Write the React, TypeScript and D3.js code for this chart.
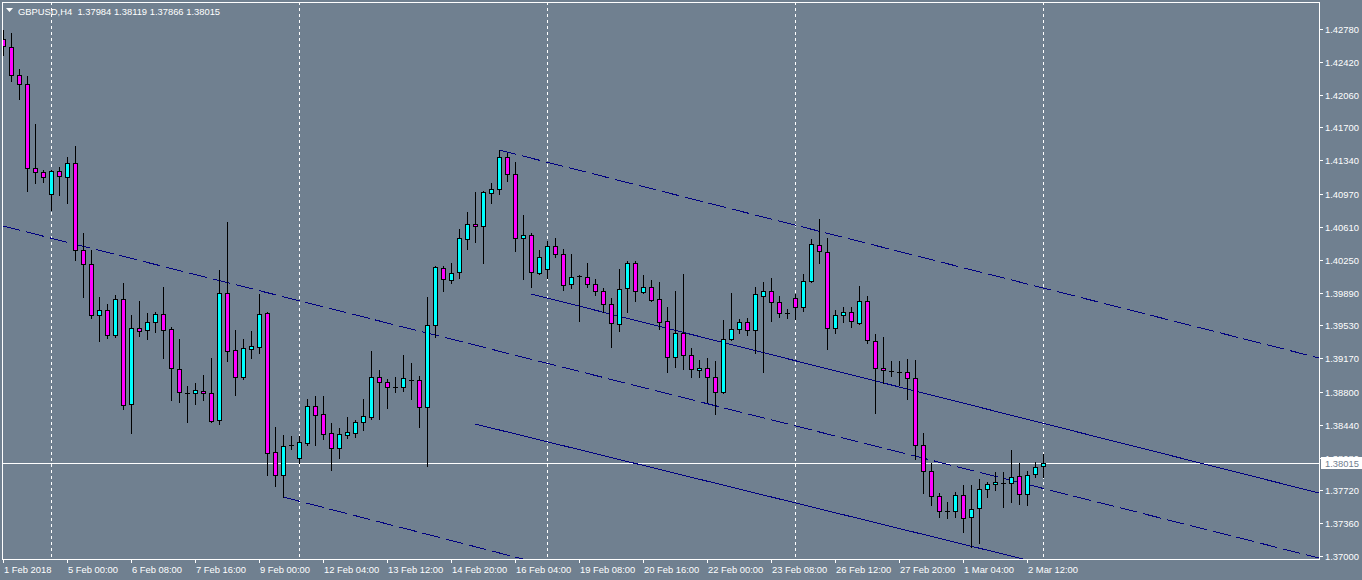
import { useEffect, useRef } from 'react';
import * as d3 from 'd3';

const WIDTH = 1362;
const HEIGHT = 580;
// plot frame (white border), price axis to its right, time axis below
const PLOT = { left: 2, top: 2, right: 1319, bottom: 559 };

const BG = '#708090';
const BULL = '#00ffff';
const BEAR = '#ff00ff';
const CHANNEL = '#000080';
const TEXT = '#ffffff';
const FONT = '"Liberation Sans", Arial, sans-serif';

const symbol = 'GBPUSD,H4';
const lastQuote = [1.37984, 1.38119, 1.37866, 1.38015];
const bid = 1.38015;

// H4 candles, oldest first (131 bars, 1 Feb 2018 .. 2 Mar 2018)
const opens = [
  1.4267, 1.42583, 1.42276, 1.42177, 1.41256, 1.41212, 1.4097, 1.41223, 1.41157, 1.4131,
  1.40356, 1.40203, 1.39643, 1.39698, 1.39424, 1.39819, 1.38667, 1.39501, 1.39479, 1.39567,
  1.39654, 1.3949, 1.39051, 1.3879, 1.38788, 1.3881, 1.38788, 1.38492, 1.39885, 1.3926,
  1.38964, 1.39271, 1.39293, 1.39665, 1.38141, 1.37889, 1.3822, 1.38075, 1.3824, 1.38645,
  1.38558, 1.38349, 1.38185, 1.38327, 1.38349, 1.3847, 1.38525, 1.38964, 1.38909, 1.38856,
  1.38854, 1.38929, 1.38931, 1.38635, 1.39534, 1.40159, 1.40027, 1.40115, 1.40477, 1.40641,
  1.4062, 1.40981, 1.41025, 1.41376, 1.4119, 1.40488, 1.40521, 1.40104, 1.40148, 1.404,
  1.40312, 1.39983, 1.40073, 1.4006, 1.39983, 1.39907, 1.39764, 1.39545, 1.3994, 1.40214,
  1.39896, 1.39951, 1.39819, 1.39578, 1.39183, 1.39446, 1.39205, 1.3904, 1.39062, 1.38964,
  1.38799, 1.3938, 1.3949, 1.39567, 1.39479, 1.39852, 1.39907, 1.39786, 1.39667, 1.3983,
  1.39731, 1.40016, 1.40411, 1.40334, 1.39501, 1.39643, 1.39676, 1.39556, 1.39797, 1.39358,
  1.39062, 1.39031, 1.3902, 1.39018, 1.38953, 1.38218, 1.37933, 1.37658, 1.37496, 1.37494,
  1.37669, 1.37428, 1.37527, 1.37735, 1.3779, 1.37799, 1.37801, 1.37878, 1.3768, 1.379,
  1.37984,
];
const highs = [
  1.42769, 1.42736, 1.42341, 1.42265, 1.41738, 1.41234, 1.41234, 1.41267, 1.41376, 1.41497,
  1.40543, 1.40356, 1.39841, 1.39764, 1.39863, 1.39994, 1.39643, 1.39797, 1.39665, 1.39676,
  1.39951, 1.39512, 1.3938, 1.38865, 1.38898, 1.38985, 1.39172, 1.40137, 1.40663, 1.39479,
  1.3938, 1.39468, 1.39874, 1.39676, 1.38415, 1.38327, 1.38316, 1.38316, 1.38722, 1.38755,
  1.38755, 1.38459, 1.38404, 1.38525, 1.38492, 1.38722, 1.39249, 1.3904, 1.38942, 1.38964,
  1.39205, 1.39117, 1.38975, 1.39841, 1.40181, 1.40181, 1.40214, 1.40587, 1.40773, 1.40992,
  1.41003, 1.41091, 1.41453, 1.4142, 1.41321, 1.4074, 1.40543, 1.40356, 1.40455, 1.40488,
  1.40367, 1.40312, 1.40082, 1.40214, 1.40038, 1.3994, 1.3983, 1.40148, 1.40236, 1.40236,
  1.40082, 1.40027, 1.40005, 1.39731, 1.39907, 1.40093, 1.39282, 1.3915, 1.39172, 1.39139,
  1.39589, 1.39885, 1.396, 1.39611, 1.39951, 1.40005, 1.40049, 1.39852, 1.39709, 1.39874,
  1.40093, 1.40477, 1.40696, 1.40488, 1.39698, 1.39731, 1.39731, 1.39962, 1.39852, 1.39435,
  1.39402, 1.39139, 1.39139, 1.39161, 1.3915, 1.38349, 1.3802, 1.37691, 1.37593, 1.37702,
  1.37779, 1.37779, 1.37845, 1.37812, 1.37922, 1.37922, 1.38163, 1.3802, 1.37933, 1.38031,
  1.38119,
];
const lows = [
  1.42495, 1.4221, 1.42012, 1.41003, 1.41091, 1.41102, 1.40795, 1.4096, 1.40872, 1.40247,
  1.39841, 1.39611, 1.39358, 1.39391, 1.39402, 1.38612, 1.38349, 1.39413, 1.3938, 1.39457,
  1.39172, 1.38711, 1.38689, 1.3847, 1.38667, 1.38711, 1.3847, 1.38448, 1.39139, 1.38766,
  1.38942, 1.39172, 1.39227, 1.37889, 1.37768, 1.37647, 1.38174, 1.3802, 1.38218, 1.38218,
  1.38284, 1.37944, 1.38075, 1.38295, 1.38306, 1.38382, 1.38503, 1.38503, 1.38624, 1.38799,
  1.3881, 1.38722, 1.38415, 1.37987, 1.39402, 1.39907, 1.39994, 1.40049, 1.40367, 1.40444,
  1.40214, 1.40872, 1.4097, 1.41113, 1.40345, 1.40038, 1.39951, 1.40093, 1.40049, 1.4028,
  1.39918, 1.3994, 1.39578, 1.39951, 1.39863, 1.39676, 1.39293, 1.39468, 1.39676, 1.39797,
  1.39885, 1.39797, 1.3949, 1.39018, 1.39073, 1.39051, 1.38964, 1.38964, 1.38689, 1.38558,
  1.38788, 1.39369, 1.39446, 1.39424, 1.39227, 1.39018, 1.39578, 1.39622, 1.39611, 1.396,
  1.39687, 1.40005, 1.40214, 1.39271, 1.39446, 1.39567, 1.39512, 1.39545, 1.39336, 1.38569,
  1.38898, 1.38975, 1.38876, 1.38722, 1.38064, 1.37691, 1.3756, 1.37428, 1.37417, 1.37428,
  1.37264, 1.37099, 1.37143, 1.37647, 1.37724, 1.37538, 1.37593, 1.37571, 1.3756, 1.37867,
  1.37866,
];
const closes = [
  1.42594, 1.42276, 1.42177, 1.41256, 1.41212, 1.41157, 1.41223, 1.41168, 1.4131, 1.40356,
  1.40203, 1.39643, 1.39698, 1.39424, 1.39819, 1.38656, 1.39501, 1.39468, 1.39567, 1.39654,
  1.39479, 1.39062, 1.38799, 1.38788, 1.38821, 1.38788, 1.38481, 1.39885, 1.39249, 1.38964,
  1.39282, 1.39304, 1.39654, 1.3813, 1.37889, 1.38207, 1.38218, 1.38251, 1.38645, 1.38547,
  1.38338, 1.38185, 1.38338, 1.3836, 1.3847, 1.38536, 1.38964, 1.38909, 1.38854, 1.38854,
  1.38953, 1.38931, 1.38635, 1.39534, 1.4017, 1.40038, 1.40104, 1.40488, 1.40641, 1.4062,
  1.40992, 1.41025, 1.41376, 1.4119, 1.40488, 1.40521, 1.40115, 1.4028, 1.404, 1.40312,
  1.39972, 1.4006, 1.40071, 1.39983, 1.39907, 1.39764, 1.39556, 1.39929, 1.40214, 1.39907,
  1.39951, 1.39808, 1.39567, 1.39183, 1.39446, 1.39205, 1.39051, 1.39062, 1.38964, 1.38799,
  1.3938, 1.3949, 1.39567, 1.39479, 1.39874, 1.39907, 1.39786, 1.39665, 1.39665, 1.39731,
  1.40016, 1.40422, 1.40345, 1.39501, 1.39643, 1.39676, 1.39578, 1.39797, 1.39369, 1.39062,
  1.3904, 1.39029, 1.39018, 1.38953, 1.38218, 1.37933, 1.37658, 1.37494, 1.37494, 1.37669,
  1.37417, 1.37516, 1.37735, 1.3779, 1.37812, 1.37801, 1.37867, 1.3768, 1.37889, 1.37977,
  1.38015,
];

// time axis labels, one every 8 bars starting at bar 0
const dateLabels = [
  '1 Feb 2018', '5 Feb 00:00', '6 Feb 08:00', '7 Feb 16:00', '9 Feb 00:00', '12 Feb 04:00',
  '13 Feb 12:00', '14 Feb 20:00', '16 Feb 04:00', '19 Feb 08:00', '20 Feb 16:00',
  '22 Feb 00:00', '23 Feb 08:00', '26 Feb 12:00', '27 Feb 20:00', '1 Mar 04:00', '2 Mar 12:00',
];
const LABEL_STEP = 8;

// bars where the weekly grid separators fall
const weekStarts = [6, 37, 68, 99, 130];

const priceTicks = [
  1.4278, 1.4242, 1.4206, 1.417, 1.4134, 1.4097, 1.4061, 1.4025, 1.3989, 1.3953, 1.3917,
  1.388, 1.3844, 1.3808, 1.3772, 1.3736, 1.37,
];

// trend-channel objects as [bar, price] anchor pairs; drawn as rays to the right
const dashedChannel: [number, number][][] = [
  [[62, 1.41453], [164.5, 1.39172]],
  [[0, 1.40619], [164.5, 1.36978]],
  [[35, 1.37647], [64, 1.36989]],
];
const solidChannel: [number, number][][] = [
  [[66, 1.39874], [164.5, 1.37691]],
  [[59, 1.38448], [126.5, 1.36989]],
];

export default function App() {
  const svgRef = useRef<SVGSVGElement>(null);

  useEffect(() => {
    if (!svgRef.current) return;
    const svg = d3.select(svgRef.current);
    svg.selectAll('*').remove();

    const x = d3.scaleLinear().domain([0, 130]).range([3, 1043]);
    const y = d3.scaleLinear().domain([1.37, 1.4278]).range([556, 29]);
    const px = (v: number) => Math.round(v) + 0.5;

    svg.append('rect').attr('width', WIDTH).attr('height', HEIGHT).attr('fill', BG);

    svg
      .append('defs')
      .append('clipPath')
      .attr('id', 'plot-clip')
      .append('rect')
      .attr('x', PLOT.left)
      .attr('y', PLOT.top)
      .attr('width', PLOT.right - PLOT.left)
      .attr('height', PLOT.bottom - PLOT.top);

    const plot = svg.append('g').attr('clip-path', 'url(#plot-clip)');

    // weekly separators
    weekStarts.forEach(b => {
      const gx = px(x(b));
      plot
        .append('line')
        .attr('x1', gx)
        .attr('x2', gx)
        .attr('y1', PLOT.top)
        .attr('y2', PLOT.bottom)
        .attr('stroke', '#ffffff')
        .attr('stroke-dasharray', '3,3')
        .attr('shape-rendering', 'crispEdges');
    });

    // bid line
    plot
      .append('line')
      .attr('x1', PLOT.left)
      .attr('x2', PLOT.right)
      .attr('y1', px(y(bid)))
      .attr('y2', px(y(bid)))
      .attr('stroke', '#ffffff')
      .attr('shape-rendering', 'crispEdges');

    // channels: extend each anchor pair to the right edge of the plot
    const drawRay = (pts: [number, number][], dashed: boolean) => {
      const x1 = x(pts[0][0]);
      const y1 = y(pts[0][1]);
      const x2 = x(pts[1][0]);
      const y2 = y(pts[1][1]);
      const slope = (y2 - y1) / (x2 - x1);
      plot
        .append('line')
        .attr('x1', x1)
        .attr('y1', y1)
        .attr('x2', PLOT.right)
        .attr('y2', y1 + slope * (PLOT.right - x1))
        .attr('stroke', CHANNEL)
        .attr('stroke-width', 1)
        .attr('stroke-dasharray', dashed ? '18,6' : null)
        .attr('shape-rendering', 'crispEdges');
    };
    dashedChannel.forEach(l => drawRay(l, true));
    solidChannel.forEach(l => drawRay(l, false));

    // candles
    const bars = plot.append('g');
    opens.forEach((o, i) => {
      const c = closes[i];
      const cx = Math.round(x(i));
      bars
        .append('line')
        .attr('x1', cx + 0.5)
        .attr('x2', cx + 0.5)
        .attr('y1', Math.round(y(highs[i])))
        .attr('y2', Math.round(y(lows[i])) + 1)
        .attr('stroke', '#000000')
        .attr('shape-rendering', 'crispEdges');

      const top = Math.round(y(Math.max(o, c)));
      const bot = Math.round(y(Math.min(o, c)));
      if (bot - top < 1) {
        bars
          .append('line')
          .attr('x1', cx - 2)
          .attr('x2', cx + 3)
          .attr('y1', top + 0.5)
          .attr('y2', top + 0.5)
          .attr('stroke', '#000000')
          .attr('shape-rendering', 'crispEdges');
      } else {
        bars
          .append('rect')
          .attr('x', cx - 1.5)
          .attr('y', top + 0.5)
          .attr('width', 4)
          .attr('height', bot - top)
          .attr('fill', c >= o ? BULL : BEAR)
          .attr('stroke', '#000000')
          .attr('shape-rendering', 'crispEdges');
      }
    });

    // frame
    svg
      .append('rect')
      .attr('x', PLOT.left + 0.5)
      .attr('y', PLOT.top + 0.5)
      .attr('width', PLOT.right - PLOT.left)
      .attr('height', PLOT.bottom - PLOT.top)
      .attr('fill', 'none')
      .attr('stroke', '#ffffff')
      .attr('shape-rendering', 'crispEdges');

    // price axis
    priceTicks.forEach(t => {
      const ty = px(y(t));
      svg
        .append('line')
        .attr('x1', PLOT.right + 1)
        .attr('x2', PLOT.right + 4)
        .attr('y1', ty)
        .attr('y2', ty)
        .attr('stroke', TEXT)
        .attr('shape-rendering', 'crispEdges');
      svg
        .append('text')
        .attr('x', PLOT.right + 6)
        .attr('y', ty + 3.5)
        .attr('font-family', FONT)
        .attr('font-size', '9.4px')
        .attr('fill', TEXT)
        .text(t.toFixed(5));
    });

    // bid label (covers the neighbouring tick label, as in the terminal)
    const by = Math.round(y(bid));
    svg
      .append('rect')
      .attr('x', PLOT.right + 2)
      .attr('y', by - 6)
      .attr('width', WIDTH - PLOT.right - 2)
      .attr('height', 12)
      .attr('fill', '#ffffff');
    svg
      .append('text')
      .attr('x', PLOT.right + 6)
      .attr('y', by + 4)
      .attr('font-family', FONT)
      .attr('font-size', '9.4px')
      .attr('fill', BG)
      .text(bid.toFixed(5));

    // time axis
    dateLabels.forEach((label, k) => {
      const tx = px(x(k * LABEL_STEP));
      svg
        .append('line')
        .attr('x1', tx)
        .attr('x2', tx)
        .attr('y1', PLOT.bottom + 1)
        .attr('y2', PLOT.bottom + 4)
        .attr('stroke', TEXT)
        .attr('shape-rendering', 'crispEdges');
      svg
        .append('text')
        .attr('x', tx + 0.5)
        .attr('y', 573)
        .attr('font-family', FONT)
        .attr('font-size', '9.4px')
        .attr('fill', TEXT)
        .text(label);
    });

    // title
    svg.append('path').attr('d', 'M6,8 L13,8 L9.5,12 Z').attr('fill', TEXT);
    svg
      .append('text')
      .attr('x', 18)
      .attr('y', 14.5)
      .attr('font-family', FONT)
      .attr('font-size', '9.4px')
      .attr('fill', TEXT)
      .attr('xml:space', 'preserve')
      .text(`${symbol}  ${lastQuote.map(v => v.toFixed(5)).join(' ')}`);

    return () => {
      svg.selectAll('*').remove();
    };
  }, []);

  return (
    <div style={{ position: 'absolute', left: 0, top: 0 }}>
      <svg ref={svgRef} width={WIDTH} height={HEIGHT} style={{ display: 'block' }} />
    </div>
  );
}
